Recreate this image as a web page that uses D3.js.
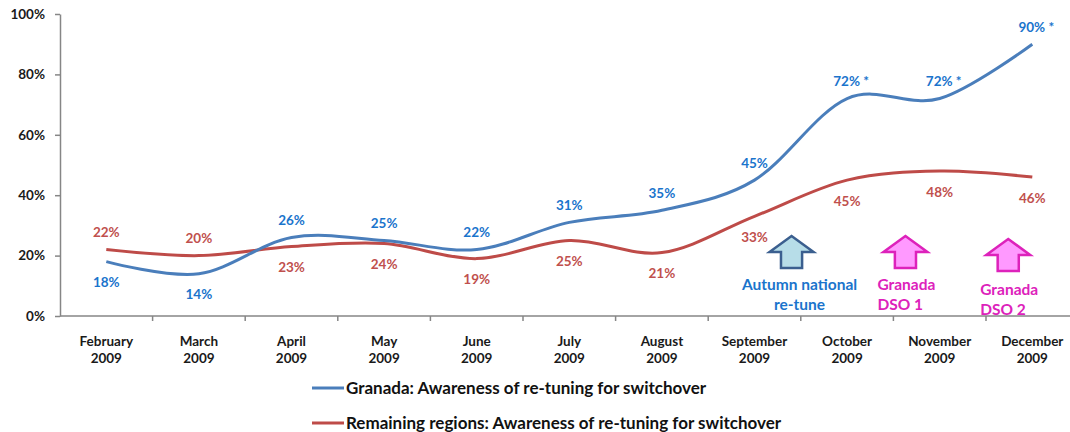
<!DOCTYPE html>
<html>
<head>
<meta charset="utf-8">
<script src="https://cdn.jsdelivr.net/npm/d3@7"></script>
<style>
  body { margin: 0; background: #fff; }
  svg text { font-family: Lato, "Open Sans", sans-serif; font-weight: bold; }
</style>
</head>
<body>
<svg id="chart" width="1070" height="432"></svg>
<script>
const months = ["February", "March", "April", "May", "June", "July", "August", "September", "October", "November", "December"];
const year = "2009";
const granada = [18, 14, 26, 25, 22, 31, 35, 45, 72, 72, 90];
const remaining = [22, 20, 23, 24, 19, 25, 21, 33, 45, 48, 46];
// label placement: "a" above, "b" below the point
const granadaLabelPos = ["b", "b", "a", "a", "a", "a", "a", "a", "a", "a", "a"];
const remainingLabelPos = ["a", "a", "b", "b", "b", "b", "b", "b", "b", "b", "b"];
const starred = [false, false, false, false, false, false, false, false, true, true, true];
const yTicks = [0, 20, 40, 60, 80, 100];

const seriesNames = [
    "Granada: Awareness of re-tuning for switchover",
    "Remaining regions: Awareness of re-tuning for switchover"
];

// annotation arrows: month they sit after, fraction of the step, label lines
const events = [
    { after: "September", frac: 0.4, lines: ["Autumn national", "re-tune"], kind: "national" },
    { after: "October", frac: 0.63, lines: ["Granada", "DSO 1"], kind: "dso" },
    { after: "November", frac: 0.74, lines: ["Granada", "DSO 2"], kind: "dso" }
];

const width = 1070, height = 432;
const mLeft = 60, mTop = 14, mBottom = 316;
const step = 92.6;

const svg = d3.select("#chart");

const x = d3.scaleBand()
    .domain(months)
    .range([mLeft, mLeft + months.length * step])
    .padding(0);

const y = d3.scaleLinear()
    .domain([0, 100])
    .range([mBottom, mTop]);

const cx = m => x(m) + x.bandwidth() / 2;

const blue = "#4a7ebb", red = "#be4b48";
const blueText = "#1a74cc", redText = "#c0504d";
const axisColor = "#868686";

// y axis
const yAxis = svg.append("g")
    .attr("transform", `translate(${mLeft},0)`)
    .call(d3.axisLeft(y).tickValues(yTicks).tickFormat(d => d + "%").tickSize(5).tickSizeOuter(0));
yAxis.select(".domain").attr("stroke", axisColor).attr("stroke-width", 1.5);
yAxis.selectAll(".tick line").attr("stroke", axisColor).attr("stroke-width", 1.5);
yAxis.selectAll(".tick text")
    .attr("x", -15)
    .attr("fill", "#1a1a1a")
    .attr("font-size", 13.5);

// x axis line + boundary ticks
svg.append("line")
    .attr("x1", mLeft).attr("x2", width)
    .attr("y1", mBottom).attr("y2", mBottom)
    .attr("stroke", axisColor).attr("stroke-width", 1.5);

svg.selectAll(".xtick")
    .data(months.slice(1))
    .join("line")
    .attr("class", "xtick")
    .attr("x1", d => x(d)).attr("x2", d => x(d))
    .attr("y1", mBottom).attr("y2", mBottom + 5)
    .attr("stroke", axisColor).attr("stroke-width", 1.5);

const xl = svg.selectAll(".xlabel")
    .data(months)
    .join("text")
    .attr("class", "xlabel")
    .attr("text-anchor", "middle")
    .attr("fill", "#1a1a1a")
    .attr("font-size", 13.5);
xl.append("tspan").attr("x", d => cx(d)).attr("y", 346).text(d => d);
xl.append("tspan").attr("x", d => cx(d)).attr("y", 363).text(year);

// lines
const line = d3.line()
    .x((d, i) => cx(months[i]))
    .y(d => y(d))
    .curve(d3.curveCardinal.tension(0));

svg.append("path")
    .datum(remaining)
    .attr("d", line)
    .attr("fill", "none")
    .attr("stroke", red)
    .attr("stroke-width", 3);

svg.append("path")
    .datum(granada)
    .attr("d", line)
    .attr("fill", "none")
    .attr("stroke", blue)
    .attr("stroke-width", 3);

// data labels
function labels(values, pos, color, cls, star) {
    svg.selectAll("." + cls)
        .data(values)
        .join("text")
        .attr("class", cls)
        .attr("x", (d, i) => cx(months[i]) + (star && starred[i] ? 4 : 0))
        .attr("y", (d, i) => y(d) + (pos[i] === "a" ? -17 : 21))
        .attr("dy", "0.35em")
        .attr("text-anchor", "middle")
        .attr("fill", color)
        .attr("font-size", 13.5)
        .text((d, i) => d + "%" + (star && starred[i] ? " *" : ""));
}
labels(granada, granadaLabelPos, blueText, "glabel", true);
labels(remaining, remainingLabelPos, redText, "rlabel", false);

// annotation arrows
function arrowPath(c, t, w, h) {
    const head = h * 0.5, shaft = w * 0.48;
    return `M${c},${t} L${c + w / 2},${t + head} L${c + shaft / 2},${t + head} L${c + shaft / 2},${t + h}` +
        ` L${c - shaft / 2},${t + h} L${c - shaft / 2},${t + head} L${c - w / 2},${t + head} Z`;
}

events.forEach((e, k) => {
    const ex = x(e.after) + x.bandwidth() * (0.5 + e.frac);
    const national = e.kind === "national";
    const t = national ? 236 : (k === 1 ? 236 : 239);
    svg.append("path")
        .attr("d", arrowPath(ex, t, 44, 32))
        .attr("fill", national ? "#b7dde8" : "#ff99ff")
        .attr("stroke", national ? "#3b5f8f" : "#dd22bb")
        .attr("stroke-width", 2.5)
        .attr("stroke-linejoin", "miter");

    const txt = svg.append("text")
        .attr("fill", national ? "#1a74cc" : "#dd22bb")
        .attr("font-size", 15.5)
        .attr("text-anchor", national ? "middle" : "start");
    const tx = national ? ex + 8 : ex - 28;
    const ty = national ? 290 : (k === 1 ? 290 : 295);
    e.lines.forEach((l, j) => {
        txt.append("tspan").attr("x", tx).attr("y", ty + j * 20).text(l);
    });
});

// legend
const legend = svg.append("g").attr("transform", "translate(312,388)");
[blue, red].forEach((c, i) => {
    const g = legend.append("g").attr("transform", `translate(0,${i * 35})`);
    g.append("line").attr("x1", 0).attr("x2", 32).attr("y1", 0).attr("y2", 0)
        .attr("stroke", c).attr("stroke-width", 3);
    g.append("text").attr("x", 34).attr("y", 0).attr("dy", "0.35em")
        .attr("fill", "#111").attr("font-size", 17)
        .text(seriesNames[i]);
});
</script>
</body>
</html>
